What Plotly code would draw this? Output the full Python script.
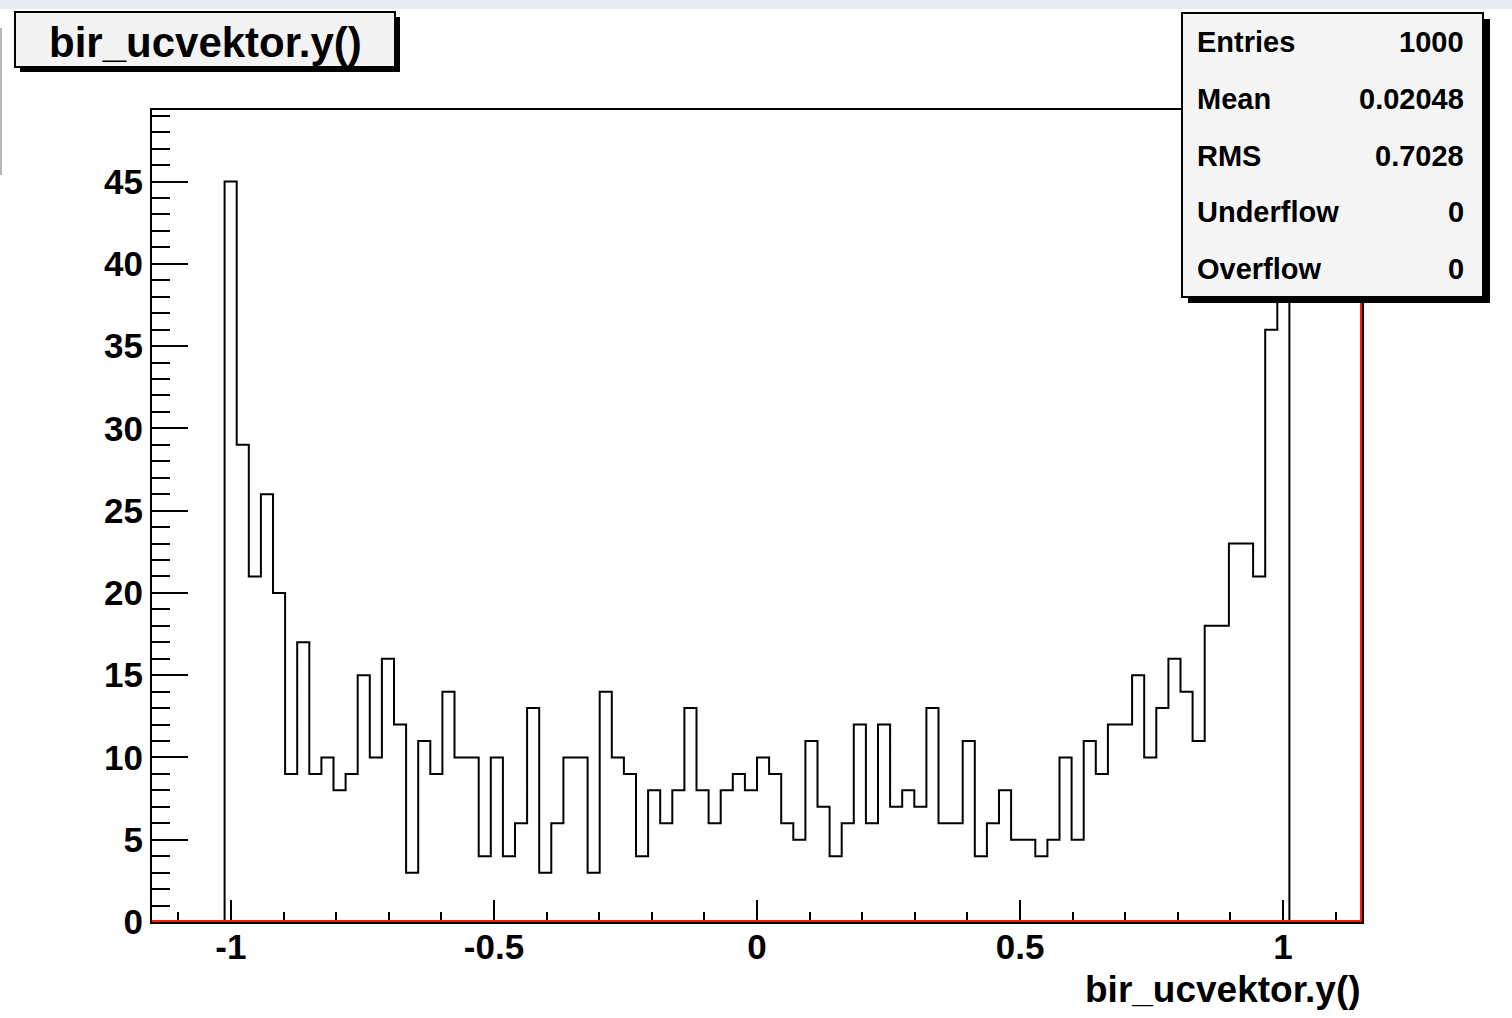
import numpy as np
import plotly.graph_objects as go

# ---------------- data ----------------
N_BINS = 100
X_LOW, X_HIGH = -1.15, 1.15
FIRST_FILLED_BIN = 6          # 0-based index of first non-empty bin
counts = [45, 29, 21, 26, 20, 9, 17, 9, 10, 8,
          9, 15, 10, 16, 12, 3, 11, 9, 14, 10,
          10, 4, 10, 4, 6, 13, 3, 6, 10, 10,
          3, 14, 10, 9, 4, 8, 6, 8, 13, 8,
          6, 8, 9, 8, 10, 9, 6, 5, 11, 7,
          4, 6, 12, 6, 12, 7, 8, 7, 13, 6,
          6, 11, 4, 6, 8, 5, 5, 4, 5, 10,
          5, 11, 9, 12, 12, 15, 10, 13, 16, 14,
          11, 18, 18, 23, 23, 21, 36, 47]
x_tickvals = [-1, -0.5, 0, 0.5, 1]
x_ticktext = ["-1", "-0.5", "0", "0.5", "1"]
y_tickvals = [0, 5, 10, 15, 20, 25, 30, 35, 40, 45]
y_ticktext = ["0", "5", "10", "15", "20", "25", "30", "35", "40", "45"]
stat_names = ["Entries", "Mean", "RMS", "Underflow", "Overflow"]
stat_values = ["1000", "0.02048", "0.7028", "0", "0"]
title_text = "bir_ucvektor.y()"
xaxis_title = "bir_ucvektor.y()"

# ---------------- geometry ----------------
W, H = 1512, 1018
L, R, T, B = 152, 1362, 110, 922
PW, PH = R - L, B - T
FONT = "Liberation Sans, Arial, Helvetica, sans-serif"


def px(xp):
    return (xp - L) / PW


def py(yp):
    return (B - yp) / PH


bw = (X_HIGH - X_LOW) / N_BINS
edges = X_LOW + bw * (FIRST_FILLED_BIN + np.arange(len(counts) + 1))
xs = [edges[0]] + list(edges[:len(counts)]) + [edges[-1], edges[-1]]
ys = [0] + counts + [counts[-1], 0]
ymax = max(counts) * 1.05

fig = go.Figure()
fig.add_trace(go.Scatter(x=xs, y=ys, mode="lines",
                         line=dict(shape="hv", color="black", width=2),
                         hoverinfo="skip", showlegend=False))

tickfont = dict(family=FONT, size=35, color="black", weight="bold")
fig.update_layout(
    width=W, height=H,
    margin=dict(l=L, r=W - R, t=T, b=H - B, pad=0),
    paper_bgcolor="white", plot_bgcolor="white",
    showlegend=False,
    xaxis=dict(range=[X_LOW, X_HIGH], tickmode="array", tickvals=x_tickvals,
               ticktext=x_ticktext, ticks="inside", ticklen=22, tickwidth=2,
               tickcolor="black", showgrid=False, zeroline=False,
               showline=True, linecolor="black", linewidth=2, mirror=True,
               tickfont=tickfont, ticklabelstandoff=-7,
               minor=dict(tickmode="linear", tick0=0, dtick=0.1, ticks="inside",
                          ticklen=10, tickwidth=2, tickcolor="black", showgrid=False)),
    yaxis=dict(range=[0, ymax], tickmode="array", tickvals=y_tickvals,
               ticktext=y_ticktext, ticks="inside", ticklen=36, tickwidth=2,
               tickcolor="black", showgrid=False, zeroline=False,
               showline=True, linecolor="black", linewidth=2, mirror=True,
               tickfont=tickfont,
               minor=dict(tickmode="linear", tick0=0, dtick=1, ticks="inside",
                          ticklen=18, tickwidth=2, tickcolor="black", showgrid=False)),
)

shapes = []
# faint screenshot strip at top
shapes.append(dict(type="rect", xref="paper", yref="paper", x0=px(0), x1=px(W),
                   y0=py(0), y1=py(9), fillcolor="#e4ebf3", line=dict(width=0),
                   layer="below"))
shapes.append(dict(type="rect", xref="paper", yref="paper", x0=px(0), x1=px(2),
                   y0=py(28), y1=py(175), fillcolor="#b8b8b8", line=dict(width=0),
                   layer="below"))
# red lines on bottom and right edges of frame
shapes.append(dict(type="line", xref="paper", yref="paper", x0=0, x1=1,
                   y0=py(921), y1=py(921), line=dict(color="#ff1a00", width=2),
                   layer="above"))
shapes.append(dict(type="line", xref="paper", yref="paper", x0=px(1361), x1=px(1361),
                   y0=py(922), y1=py(297), line=dict(color="#ff1a00", width=2),
                   layer="above"))
# title box (shadow + box)
shapes.append(dict(type="rect", xref="paper", yref="paper", x0=px(20), x1=px(400),
                   y0=py(17), y1=py(72), fillcolor="black", line=dict(width=0),
                   layer="above"))
shapes.append(dict(type="rect", xref="paper", yref="paper", x0=px(15), x1=px(395),
                   y0=py(12), y1=py(67), fillcolor="#f3f3f3",
                   line=dict(color="black", width=2), layer="above"))
# stats box (shadow + box)
shapes.append(dict(type="rect", xref="paper", yref="paper", x0=px(1188), x1=px(1490),
                   y0=py(19), y1=py(303), fillcolor="black", line=dict(width=0),
                   layer="above"))
shapes.append(dict(type="rect", xref="paper", yref="paper", x0=px(1182), x1=px(1483),
                   y0=py(13), y1=py(297), fillcolor="#f5f5f5",
                   line=dict(color="black", width=2), layer="above"))
fig.update_layout(shapes=shapes)

ann = []
ann.append(dict(text=title_text, xref="paper", yref="paper", x=px(205), y=py(42),
                xanchor="center", yanchor="middle", showarrow=False,
                font=dict(family=FONT, size=42, color="black", weight="bold")))
ann.append(dict(text=xaxis_title, xref="paper", yref="paper", x=px(1363), y=py(989),
                xanchor="right", yanchor="middle", showarrow=False,
                font=dict(family=FONT, size=37, color="black", weight="bold")))
row_y = [42, 99, 156, 212, 269]
for name, val, yy in zip(stat_names, stat_values, row_y):
    ann.append(dict(text=name, xref="paper", yref="paper", x=px(1195), y=py(yy),
                    xanchor="left", yanchor="middle", showarrow=False,
                    font=dict(family=FONT, size=29, color="black", weight="bold")))
    ann.append(dict(text=val, xref="paper", yref="paper", x=px(1466), y=py(yy),
                    xanchor="right", yanchor="middle", showarrow=False,
                    font=dict(family=FONT, size=29, color="black", weight="bold")))
fig.update_layout(annotations=ann)

fig.write_html("out.html", config={"displayModeBar": False},
               post_script="document.body.style.margin='0';document.body.style.padding='0';")
